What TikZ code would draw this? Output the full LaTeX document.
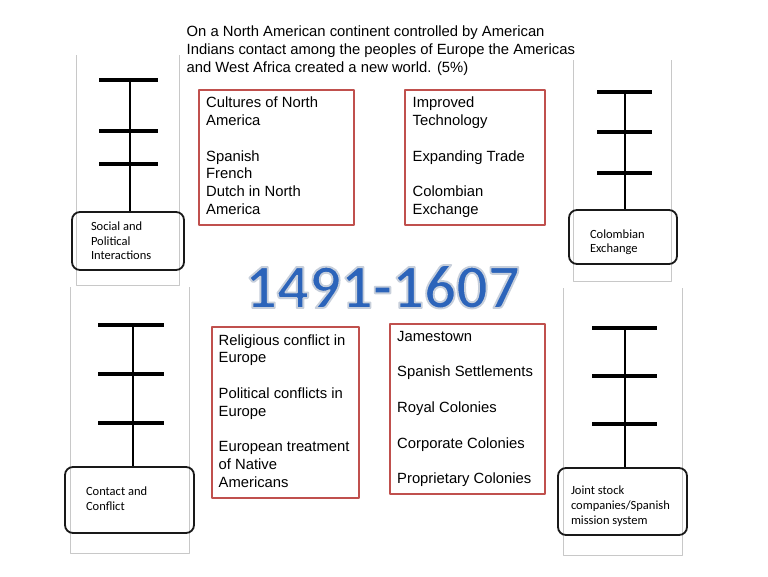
\documentclass[tikz,border=0pt]{standalone}
\usepackage{fontspec}
\setmainfont{Liberation Sans}
\newfontfamily\calfont{Carlito}
\newfontfamily\yearfont[BoldFeatures={FakeBold=3}]{Carlito}
\usetikzlibrary{positioning}
\definecolor{boxred}{RGB}{192,80,77}
\definecolor{stripgray}{RGB}{200,200,200}
\definecolor{yearblue}{RGB}{44,100,186}
\newcommand{\yearedge}{\special{pdf:literal 0.78 0.81 0.86 RG}}
\tikzset{
  redbox/.style={draw=boxred,line width=1.6pt,inner sep=0pt,anchor=north west},
  listtext/.style={inner sep=0pt,anchor=north west,align=left,font=\fontsize{14.8}{17.8}\selectfont},
  tagbox/.style={draw=black!90,line width=1.8pt,rounded corners=8pt,align=left,inner ysep=2pt,font=\calfont\fontsize{12.5}{14.6}\selectfont,
    execute at begin node={\spaceskip=0pt\xspaceskip=0pt\relax}},
  strip/.style={draw=stripgray,line width=0.9pt},
  bar/.style={line width=3.2pt},
  stem/.style={line width=2.3pt},
  yeartext/.style={inner sep=0pt,anchor=base,text=yearblue,font=\yearfont\bfseries\fontsize{63}{63}\selectfont}
}
\begin{document}
\begin{tikzpicture}[line cap=butt,line join=round,x=1pt,y=-1pt]
    \useasboundingbox [fill=white] (0,0) rectangle (768,576);
    % strips
    \draw [strip] (76.5,55)-- (76.5,285.5)-- (179,285.5)-- (179,55);
    \draw [strip] (573,60)-- (573,281.5)-- (671,281.5)-- (671,60);
    \draw [strip] (70.5,287)-- (70.5,553)-- (189,553)-- (189,287);
    \draw [strip] (563,288)-- (563,555)-- (682,555)-- (682,288);
    % title
    \node [listtext] (claim) at (186.5,25.5) {On a North American continent controlled by American\\Indians contact among the peoples of Europe the Americas\\and West Africa created a new world. (5\%)};
    % red boxes
    \node [redbox,minimum width=155,minimum height=135] (cultbox) at (198,89) {};
    \node [redbox,minimum width=140,minimum height=135] (techbox) at (404,89) {};
    \node [redbox,minimum width=147,minimum height=171] (conflbox) at (211,326) {};
    \node [redbox,minimum width=155,minimum height=170] (colbox) at (389,323) {};
    \node [listtext] (culttext) at ([shift={(8,7.8)}]cultbox.north west) {Cultures of North\\America\\[17.8pt]Spanish\\French\\Dutch in North\\America};
    \node [listtext] (techtext) at ([shift={(8.5,7.8)}]techbox.north west) {Improved\\Technology\\[17.8pt]Expanding Trade\\[17.8pt]Colombian\\Exchange};
    \node [listtext] (confltext) at ([shift={(7.5,8.2)}]conflbox.north west) {Religious conflict in\\Europe\\[17.8pt]Political conflicts in\\Europe\\[17.8pt]European treatment\\of Native\\Americans};
    \node [listtext] (coltext) at ([shift={(8,8)}]colbox.north west) {Jamestown\\[17.8pt]Spanish Settlements\\[17.8pt]Royal Colonies\\[17.8pt]Corporate Colonies\\[17.8pt]Proprietary Colonies};
    % year
    \node [yeartext] (year) at (382.5,308) {\yearedge 1491-1607};
    % tag boxes
    \node [tagbox,minimum width=112,minimum height=58,inner xsep=19,text width=74] (social) at (128,241) {Social and\\Political\\Interactions};
    \node [tagbox,minimum width=108,minimum height=54,inner xsep=21,text width=66,text height=19] (colex) at (623,237) {Colombian\\Exchange};
    \node [tagbox,minimum width=129,minimum height=66,inner xsep=21,text width=87,text height=6] (contact) at (129.5,500) {Contact and\\Conflict};
    \node [tagbox,minimum width=129,minimum height=67,inner xsep=13,text width=103,text height=18] (joint) at (622.5,501.5) {Joint stock\\companies/Spanish\\mission system};
    % ladders
    \foreach \y in {80,131,164} \draw [bar] (99,\y)-- (158,\y);
    \coordinate (socialtop) at (130,80);
    \draw [stem] (socialtop)-- (socialtop |- social.north);
    \foreach \y in {92,132,173} \draw [bar] (597,\y)-- (652,\y);
    \coordinate (colextop) at (625,92);
    \draw [stem] (colextop)-- (colextop |- colex.north);
    \foreach \y in {325,374,423} \draw [bar] (98,\y)-- (164,\y);
    \coordinate (contacttop) at (133,325);
    \draw [stem] (contacttop)-- (contacttop |- contact.north);
    \foreach \y in {328,376,424} \draw [bar] (592,\y)-- (657,\y);
    \coordinate (jointtop) at (625,328);
    \draw [stem] (jointtop)-- (jointtop |- joint.north);
\end{tikzpicture}
\end{document}
